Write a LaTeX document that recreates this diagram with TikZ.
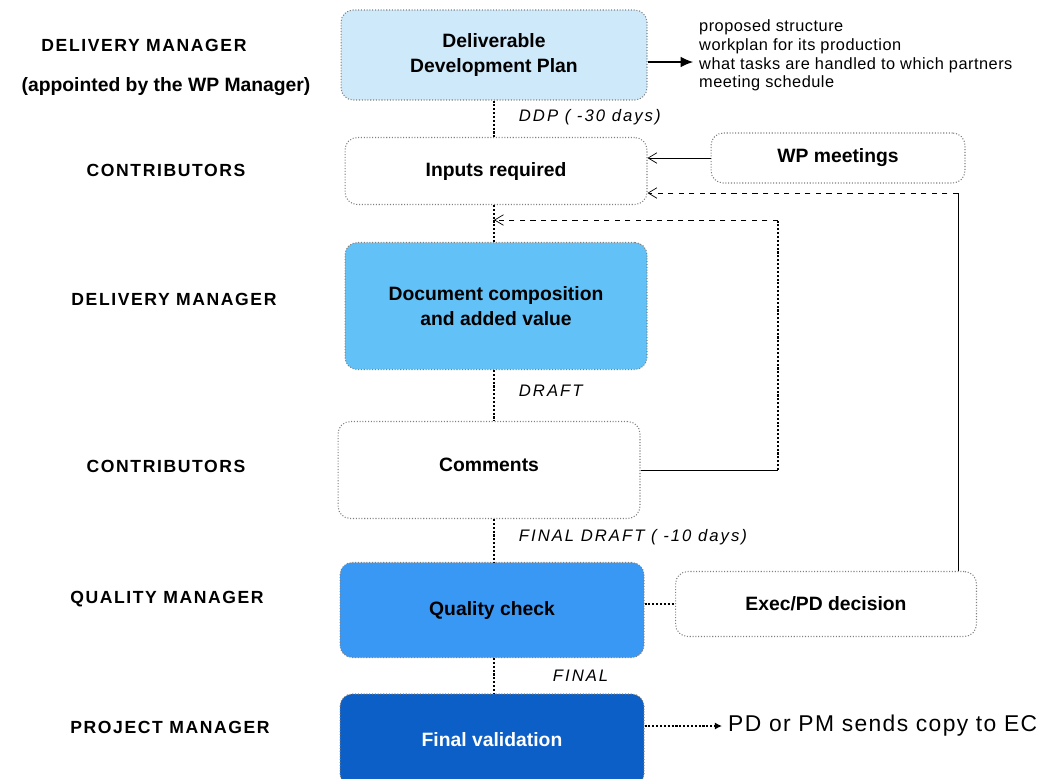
\documentclass[tikz,border=0pt]{standalone}
\usepackage{fontspec}
\setmainfont{Liberation Sans}
\usepackage{xcolor}
\usetikzlibrary{positioning,arrows.meta,calc}

\definecolor{ddpblue}{RGB}{206,233,250}
\definecolor{docblue}{RGB}{98,194,247}
\definecolor{qcblue}{RGB}{58,152,245}
\definecolor{fvblue}{RGB}{11,95,198}

\begin{document}
\begin{tikzpicture}[x=0.02cm,y=-0.02cm,
    box/.style={draw=gray, line width=0.6pt, densely dotted, rounded corners=7pt, align=center, inner sep=0pt,
      font=\fontsize{11}{14}\selectfont\bfseries},
    role/.style={font=\fontsize{10}{12}\selectfont\bfseries\addfontfeatures{LetterSpace=9}},
    flow/.style={font=\fontsize{9.5}{12}\selectfont\itshape\addfontfeatures{LetterSpace=12}, anchor=west},
    spine/.style={line width=1.2pt, densely dotted},
    barb/.style={-{Straight Barb[length=5pt,width=6pt]}}]
        \clip (0,0) rectangle (1047,778);

        % roles on the left
        \foreach \n/\x/\y/\txt in {r1/144/45/DELIVERY MANAGER, r2/166/170/CONTRIBUTORS, r3/174/299/DELIVERY MANAGER,
                                   r4/166/466/CONTRIBUTORS, r5/167/599/QUALITY MANAGER, r6/170/727/PROJECT MANAGER} {
          \node[role] (\n) at (\x,\y) {\txt};
        }
        \node[font=\fontsize{11}{12}\selectfont\bfseries] (r1b) at (166,87) {(appointed by the WP Manager)};

        % main chain of boxes
        \node[box, fill=ddpblue, minimum width=6.12cm, minimum height=1.8cm] (ddp) at (494,55) {Deliverable\\Development Plan};
        \node[box, fill=white, minimum width=6.04cm, minimum height=1.34cm] (inp) at (496,171) {Inputs required};
        \node[box, fill=docblue, minimum width=6.04cm, minimum height=2.54cm] (doc) at (496,306) {Document composition\\and added value};
        \node[box, fill=white, minimum width=6.04cm, minimum height=1.94cm] (com) at (489,470) {\raisebox{6pt}{Comments}};
        \node[box, fill=qcblue, minimum width=6.08cm, minimum height=1.9cm] (qc) at (492,610) {Quality check};
        \node[box, fill=fvblue, text=white, minimum width=6.08cm, minimum height=1.84cm] (fv) at (492,740) {Final validation};

        % side boxes
        \node[box, fill=white, minimum width=5.08cm, minimum height=1cm] (wpm) at (838,158) {WP meetings};
        \node[box, fill=white, minimum width=6.02cm, minimum height=1.3cm] (exec) at (826,604) {Exec/PD decision};

        % texts on the right
        \node[anchor=north west, align=left, font=\fontsize{9.3}{10.8}\selectfont\addfontfeatures{LetterSpace=3}] (plan) at (693,13)
          {proposed structure\\workplan for its production\\what tasks are handled to which partners\\meeting schedule};
        \node[anchor=west, font=\fontsize{13}{15}\selectfont\addfontfeatures{LetterSpace=6}] (ec) at (722,726) {PD or PM sends copy to EC};

        % spine
        \draw[spine] (ddp.south) -- (ddp.south |- inp.north)
          node[flow, pos=0.45, xshift=0.36cm] {DDP ( -30 days)};
        \draw[spine] (inp.south -| ddp.south) -- (ddp.south |- doc.north);
        \draw[spine] (doc.south -| ddp.south) -- (ddp.south |- com.north)
          node[flow, pos=0.4, xshift=0.36cm] {DRAFT};
        \draw[spine] (com.south -| ddp.south) -- (ddp.south |- qc.north)
          node[flow, pos=0.43, xshift=0.36cm] {FINAL DRAFT ( -10 days)};
        \draw[spine] (qc.south -| ddp.south) -- (ddp.south |- fv.north)
          node[flow, pos=0.5, xshift=1.04cm] {FINAL};

        % feedback from comments
        \coordinate (loop) at (778,220);
        \draw[thin] (com.east) -- (com.east -| loop);
        \draw[spine] (com.east -| loop) -- (loop);
        \draw[thin, dashed, barb] (loop) -- (loop -| ddp.south);

        % inputs from meetings and decisions
        \draw[thin, barb] (wpm.west) -- (wpm.west -| inp.east);
        \coordinate (up) at (958,193);
        \draw[thin] (exec.north -| up) -- (up);
        \draw[thin, dashed, barb] (up) -- (up -| inp.east);
        \draw[spine] (exec.west -| qc.east) -- (exec.west);

        % outputs
        \draw[semithick, -{Latex[length=7pt,width=6pt]}] (ddp.east |- 0,62) -- (plan.west |- 0,62);
        \draw[spine, -{Latex[length=4pt,width=4pt]}] (fv.east |- ec) -- (ec.west);
\end{tikzpicture}
\end{document}
